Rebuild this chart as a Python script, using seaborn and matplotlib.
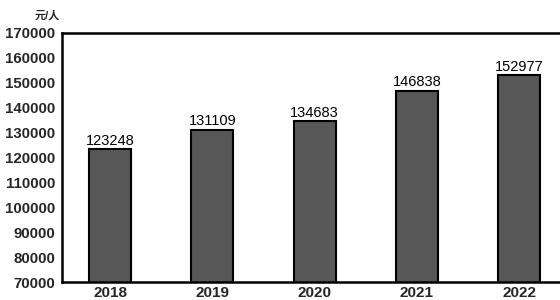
import matplotlib
matplotlib.use("Agg")
import matplotlib.pyplot as plt
import seaborn as sns
import pandas as pd

years = ["2018", "2019", "2020", "2021", "2022"]
values = [123248, 131109, 134683, 146838, 152977]
yticks = [70000, 80000, 90000, 100000, 110000, 120000, 130000, 140000, 150000, 160000, 170000]
unit = "元/人"

sns.set_theme(style="white")
plt.rcParams['font.family'] = ['Liberation Sans', 'Noto Sans CJK SC']

df = pd.DataFrame({"year": years, "value": values})

fig = plt.figure(figsize=(5.6, 3.0), dpi=100)
ax = fig.add_axes([0.111, 0.06, 0.92, 0.83])
sns.barplot(data=df, x="year", y="value", color="#575757", width=0.41,
            edgecolor="black", linewidth=1.5, saturation=1, ax=ax)

ax.set_ylim(70000, 170000)
ax.set_xlim(-0.47, 4.57)
ax.set_yticks(yticks)
ax.set_yticklabels([str(v) for v in yticks], fontsize=10.8, fontweight="bold")
ax.tick_params(axis="y", direction="in", length=5, width=1.5, color="black", pad=5)
ax.tick_params(axis="x", length=0, pad=3)
for lab in ax.get_xticklabels():
    lab.set_fontsize(11)
    lab.set_fontweight("bold")
ax.set_xlabel("")
ax.set_ylabel("")

for s in ["left", "bottom", "top"]:
    ax.spines[s].set_visible(True)
    ax.spines[s].set_color("black")
    ax.spines[s].set_linewidth(1.8)
ax.spines["right"].set_visible(False)

ax.bar_label(ax.containers[0], labels=[str(v) for v in values], padding=1,
             fontsize=10.5, color="black")

fig.text(0.062, 0.93, unit, fontsize=8, fontweight="bold", ha="left", va="bottom")

fig.savefig("out.png", dpi=100)
